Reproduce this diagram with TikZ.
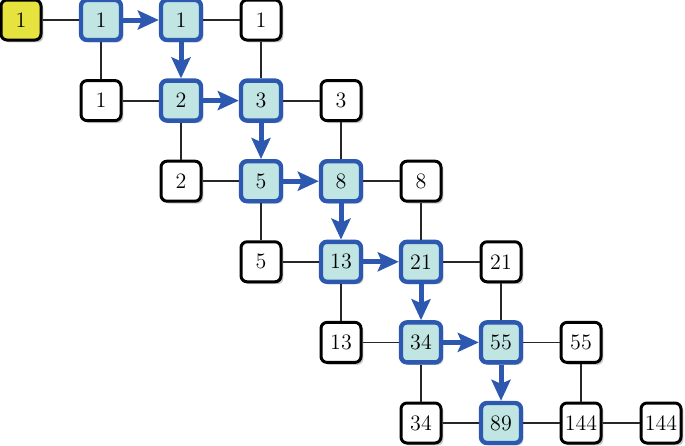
\documentclass[tikz,border=0pt]{standalone}
\usetikzlibrary{arrows.meta,shadows}
\definecolor{ybox}{RGB}{230,226,62}
\definecolor{bfill}{RGB}{192,229,227}
\definecolor{bline}{RGB}{44,88,176}
\tikzset{
  cell/.style={minimum width=20pt,minimum height=20pt,inner sep=0pt,rounded corners=3pt,
    font=\fontsize{11}{12}\selectfont, drop shadow={shadow xshift=1.2pt,shadow yshift=-1.2pt,opacity=0.4,fill=black!55}},
  wbox/.style={cell,draw=black,line width=1.5pt,fill=white},
  ybx/.style={cell,draw=black,line width=1.5pt,fill=ybox},
  bbox/.style={cell,draw=bline,line width=2.2pt,fill=bfill},
  conn/.style={line width=0.9pt,black!85},
  path/.style={line width=2.5pt,bline,-{Stealth[length=10.5pt,width=9.5pt,inset=2pt]}},
}
\begin{document}
\begin{tikzpicture}[x=1pt,y=1pt]
\useasboundingbox (0,0) rectangle (342.5,-222.5);
\def\cx#1{10.5+40*#1}
\def\ry#1{-10-40.3*#1}
% row 0
\node[ybx]  (y)   at ({\cx{0}},{\ry{0}}) {1};
\node[bbox] (b01) at ({\cx{1}},{\ry{0}}) {1};
\node[bbox] (b02) at ({\cx{2}},{\ry{0}}) {1};
\node[wbox] (w03) at ({\cx{3}},{\ry{0}}) {1};
% row 1
\node[wbox] (w11) at ({\cx{1}},{\ry{1}}) {1};
\node[bbox] (b12) at ({\cx{2}},{\ry{1}}) {2};
\node[bbox] (b13) at ({\cx{3}},{\ry{1}}) {3};
\node[wbox] (w14) at ({\cx{4}},{\ry{1}}) {3};
% row 2
\node[wbox] (w22) at ({\cx{2}},{\ry{2}}) {2};
\node[bbox] (b23) at ({\cx{3}},{\ry{2}}) {5};
\node[bbox] (b24) at ({\cx{4}},{\ry{2}}) {8};
\node[wbox] (w25) at ({\cx{5}},{\ry{2}}) {8};
% row 3
\node[wbox] (w33) at ({\cx{3}},{\ry{3}}) {5};
\node[bbox] (b34) at ({\cx{4}},{\ry{3}}) {13};
\node[bbox] (b35) at ({\cx{5}},{\ry{3}}) {21};
\node[wbox] (w36) at ({\cx{6}},{\ry{3}}) {21};
% row 4
\node[wbox] (w44) at ({\cx{4}},{\ry{4}}) {13};
\node[bbox] (b45) at ({\cx{5}},{\ry{4}}) {34};
\node[bbox] (b46) at ({\cx{6}},{\ry{4}}) {55};
\node[wbox] (w47) at ({\cx{7}},{\ry{4}}) {55};
% row 5
\node[wbox] (w55) at ({\cx{5}},{\ry{5}}) {34};
\node[bbox] (b56) at ({\cx{6}},{\ry{5}}) {89};
\node[wbox] (w57) at ({\cx{7}},{\ry{5}}) {144};
\node[wbox] (w58) at ({\cx{8}},{\ry{5}}) {144};
% plain connectors
\draw[conn] (y) -- (b01);
\draw[conn] (b02) -- (w03);
\draw[conn] (b01) -- (w11);
\draw[conn] (w03) -- (b13);
\draw[conn] (w11) -- (b12);
\draw[conn] (b13) -- (w14);
\draw[conn] (b12) -- (w22);
\draw[conn] (w14) -- (b24);
\draw[conn] (w22) -- (b23);
\draw[conn] (b24) -- (w25);
\draw[conn] (b23) -- (w33);
\draw[conn] (w25) -- (b35);
\draw[conn] (w33) -- (b34);
\draw[conn] (b35) -- (w36);
\draw[conn] (b34) -- (w44);
\draw[conn] (w36) -- (b46);
\draw[conn] (w44) -- (b45);
\draw[conn] (b46) -- (w47);
\draw[conn] (b45) -- (w55);
\draw[conn] (w47) -- (w57);
\draw[conn] (w55) -- (b56);
\draw[conn] (b56) -- (w57);
\draw[conn] (w57) -- (w58);
% highlighted path
\draw[path] (b01) -- (b02);
\draw[path] (b02) -- (b12);
\draw[path] (b12) -- (b13);
\draw[path] (b13) -- (b23);
\draw[path] (b23) -- (b24);
\draw[path] (b24) -- (b34);
\draw[path] (b34) -- (b35);
\draw[path] (b35) -- (b45);
\draw[path] (b45) -- (b46);
\draw[path] (b46) -- (b56);
\end{tikzpicture}
\end{document}
